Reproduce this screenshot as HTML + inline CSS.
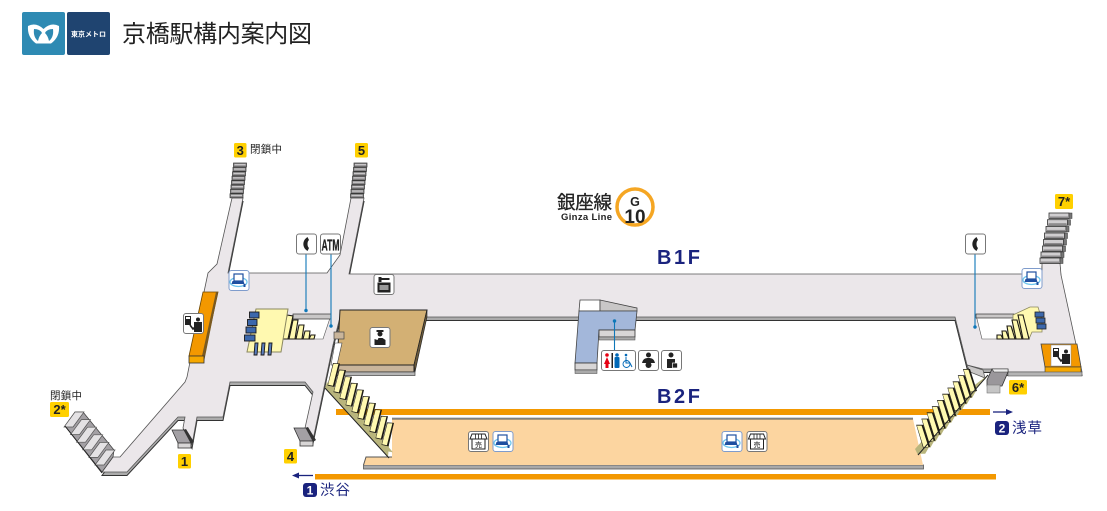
<!DOCTYPE html>
<html lang="ja"><head><meta charset="utf-8"><title>京橋駅構内案内図</title>
<style>
html,body{margin:0;padding:0;background:#fff}
svg{display:block}
text{font-family:"Liberation Sans","Noto Sans CJK JP",sans-serif}
</style></head><body>
<svg width="1107" height="511" viewBox="0 0 1107 511" xmlns="http://www.w3.org/2000/svg">
<defs>
<g id="ls"><polygon points="-5.5,22 1,24 6,30 1,29" fill="#b9b57c"/><polygon points="0,0 7,0.5 1.5,24 -5.5,22.5" fill="#1c1a14"/><polygon points="0.5,0.8 5.4,1 -0.1,22.8 -4.9,21.8" fill="#fff9b0"/></g>
<g id="rs"><polygon points="6,23 13,22 9,29 3,29" fill="#b9b57c"/><polygon points="0,0 7,0 14,22 7,23.5" fill="#1c1a14"/><polygon points="0.7,0.8 5.4,0.8 12.2,22 7.5,22.8" fill="#fff9b0"/></g>
<polygon id="gs" points="0,0 -9,0 -20,15 -11,15" fill="#e4e2e4" stroke="#555" stroke-width=".7"/>
<g id="bar"><rect width="13" height="4" fill="#8c8a8c" stroke="#333" stroke-width=".7"/><rect x="1" y="1" width="11" height="1.3" fill="#c9c7c9"/></g>
<g id="bar7"><rect width="20" height="5.5" fill="#d0ced0" stroke="#333" stroke-width=".8"/><rect x="1" y="3.5" width="18" height="1.5" fill="#8c8a8c"/><rect x="20" width="3" height="5.5" fill="#777" stroke="#333" stroke-width=".5"/></g>
<g id="box"><rect x=".5" y=".5" width="20" height="20" rx="2.5" fill="#fff" stroke="#777"/></g>
<g id="wifi"><rect x=".5" y=".5" width="20" height="20" rx="2.5" fill="#fff" stroke="#7f9ccc"/><ellipse cx="10" cy="12" rx="8.5" ry="4.5" fill="none" stroke="#6ec6ee" stroke-width="1.3"/><rect x="5.5" y="4" width="9" height="7" fill="#fff" stroke="#1e4fa0" stroke-width="1.2"/><polygon points="4,11 15,11 16,14 3,14" fill="#1e4fa0"/><rect x="15" y="14" width="2" height="3" fill="#1e4fa0"/></g>
<g id="shop"><rect x=".5" y=".5" width="20" height="20" rx="2.5" fill="#fff" stroke="#777"/><path d="M4,3H17L19,8H2Z" fill="#fff" stroke="#222"/><path d="M7.5,3V8M10.5,3V8M13.5,3V8" stroke="#222" stroke-width=".8"/><rect x="4" y="8" width="13" height="10" fill="#fff" stroke="#222"/><text x="10.5" y="16" font-size="7" text-anchor="middle" fill="#222">売</text></g>
<g id="info"><path d="M2,3h6v9H2z" fill="#222"/><rect x="3" y="4" width="4" height="2" fill="#fff"/><rect x="11" y="9" width="8" height="10" fill="#222"/><circle cx="15" cy="6.5" r="2" fill="#222"/><path d="M7,12l3,4 2,-2" fill="none" stroke="#222" stroke-width="1.6"/></g>
<g id="phone"><path d="M11.5,3.5 C6,7 6,14 11.5,17.5 L13,14.5 C11,13 11,8 13,6.5 Z" fill="#222"/></g>
<g id="ext"><polygon points="11,0 14,-1 22,12 19,14" fill="#333"/><polygon points="0,0 12,0 19,13 6,13" fill="#a3a0a4" stroke="#333" stroke-width=".8"/><rect x="6" y="13" width="13" height="5" fill="#d8d6d6" stroke="#333" stroke-width=".8"/></g>
</defs>

<!-- header -->
<rect x="22" y="12" width="43" height="43" rx="2" fill="#2e8ab3"/>
<rect x="67" y="12" width="43" height="43" rx="2" fill="#1f4470"/>
<path d="M28,26 Q36,22 43.5,29 Q51,22 59,26 Q60,37 51,43.5 L36,43.5 Q27,37 28,26Z" fill="#fff"/>
<path d="M34,29 Q40,29 42,33 Q39,36 38,41 Q33,37 34,29Z" fill="#2e8ab3"/>
<path d="M53,29 Q47,29 45,33 Q48,36 49,41 Q54,37 53,29Z" fill="#2e8ab3"/>
<text x="88.5" y="36.5" font-size="7" font-weight="700" text-anchor="middle" fill="#fff" textLength="35" lengthAdjust="spacingAndGlyphs">東京メトロ</text>
<text x="122" y="42" font-size="24" fill="#222" textLength="190">京橋駅構内案内図</text>

<!-- B1F floor -->
<path d="M232,198 L217,264 L208,273 L204,292 L187,377 L185,382 L120,457 L113,457 L102,472 L127,472 L178,417 L185,417 L183,428 L192,445 L197,417 L223,417 L230,382 L305,382 L313,392 L305,428 L313,440 L333,345 L340,317 L955,317 L957,325 L967,365 L983,369 L992,369 L1008,372 L1082,372 L1061,275 L1060,263 L1042,263 L1042,274 L349,274 L364,198 L351,198 L340,255 L327,273 L228,273 L243,198Z" fill="#ababab" stroke="#333" transform="translate(0,3.5)"/>
<path d="M232,198 L217,264 L208,273 L204,292 L187,377 L185,382 L120,457 L113,457 L102,472 L127,472 L178,417 L185,417 L183,428 L192,445 L197,417 L223,417 L230,382 L305,382 L313,392 L305,428 L313,440 L333,345 L340,317 L955,317 L957,325 L967,365 L983,369 L992,369 L1008,372 L1082,372 L1061,275 L1060,263 L1042,263 L1042,274 L349,274 L364,198 L351,198 L340,255 L327,273 L228,273 L243,198Z" fill="#ebe7ea" stroke="#555" stroke-width=".8"/>

<!-- trains -->
<rect x="336" y="409" width="654" height="6" fill="#f39800"/>
<rect x="315" y="474" width="681" height="5.5" fill="#f39800"/>

<!-- B2F floor -->
<rect x="363.5" y="465" width="560" height="4" fill="#a9a9a9" stroke="#555" stroke-width=".8"/>
<path d="M363.5,465 L366,457 H392 V419 H913 L923,465Z" fill="#fcd5a0"/>
<path d="M363.5,465 L366,457 H392 M392,419 H913" fill="none" stroke="#555" stroke-width="1"/>
<path d="M392,418 H913" stroke="#aaa" stroke-width="1"/>

<!-- left hole and stair -->
<polygon points="293,315 331,315 323,339 282,339" fill="#fff" stroke="#555" stroke-width=".6"/>
<rect x="293" y="314" width="38" height="5" fill="#c9c7c7" stroke="#333" stroke-width=".7"/>
<g fill="#fff9b0" stroke="#1c1a14" stroke-width="1.1">
<polygon points="287,315 293,316 288,339 282,339"/><polygon points="293,320 298,320 295,339 289,339"/><polygon points="299,325 304,325 302,339 296,339"/><polygon points="305,331 310,331 309,339 303,339"/><polygon points="311,335 315,335 314,339 309,339"/>
</g>
<polygon points="256,309 288,309 281,352 247,352" fill="#fff9b0" stroke="#8a8760" stroke-width="1"/>
<g fill="#3c68ac" stroke="#1a1a1a" stroke-width=".9">
<rect x="249.5" y="312" width="9.5" height="6"/><rect x="247.5" y="319.5" width="9.5" height="6"/><rect x="246" y="327" width="10" height="6"/><rect x="244.5" y="335" width="10.5" height="6"/>
<polygon points="255,343 258,343 257,355 254,355" fill="#5a7dbd"/><polygon points="262,343 265,343 264,355 261,355" fill="#5a7dbd"/><polygon points="269,343 272,343 271,355 268,355" fill="#5a7dbd"/>
</g>

<!-- left orange -->
<polygon points="203,292 218,292 204,356 189,356" fill="#f39800" stroke="#6b4500" stroke-width=".8"/>
<polygon points="218,292 216,292 202,356 204,362" fill="#7a5a20"/>
<rect x="189" y="356" width="15" height="7" fill="#f6a800" stroke="#333" stroke-width=".8"/>

<!-- tan room -->
<polygon points="340,310 427,310 414,365 337,365" fill="#d3b074" stroke="#222"/>
<polygon points="427,310 427,317 415,372 414,365" fill="#6b5a3c" stroke="#222" stroke-width=".6"/>
<rect x="337" y="365" width="77" height="7" fill="#c9b59b" stroke="#222"/>
<rect x="337" y="372" width="78" height="3.5" fill="#b5b5b5" stroke="#444" stroke-width=".7"/>
<rect x="334" y="332" width="10" height="7" fill="#c9b59b" stroke="#444" stroke-width=".7"/>
<polygon points="335,343 342,343 337,365 331,365" fill="#fff" stroke="#444" stroke-width=".6"/>

<!-- center stair -->
<polygon points="580,300 600,300 600,311 579,311" fill="#fff" stroke="#444" stroke-width=".8"/>
<polygon points="600,300 637,308 637,311 600,311" fill="#c9c7c7" stroke="#444" stroke-width=".8"/>
<polygon points="579,311 637,311 635,330 599,330 597,363 575,363" fill="#a3b7da" stroke="#444" stroke-width=".8"/>
<rect x="599" y="330" width="36" height="7" fill="#d8d6d6" stroke="#333" stroke-width=".8"/>
<rect x="599" y="337" width="36" height="3" fill="#aaa" stroke="#444" stroke-width=".5"/>
<rect x="575" y="363" width="22" height="7" fill="#d8d6d6" stroke="#333" stroke-width=".8"/>
<rect x="575" y="370" width="22" height="3.5" fill="#aaa" stroke="#444" stroke-width=".5"/>

<!-- right hole and stair -->
<polygon points="976,315 1016,315 1029,339 982,339" fill="#fff" stroke="#555" stroke-width=".6"/>
<rect x="976" y="314" width="38" height="4" fill="#c9c7c7" stroke="#333" stroke-width=".7"/>
<polygon points="1013,315 1030,307 1038,307 1042,320 1042,332 1032,332 1029,339 1013,339" fill="#fff9b0" stroke="#8a8760" stroke-width=".8"/>
<g fill="#fff9b0" stroke="#1c1a14" stroke-width="1.1">
<polygon points="997,335 1001,335 1003,339 997,339"/><polygon points="1002,331 1006,331 1009,339 1003,339"/><polygon points="1007,326 1011,326 1015,339 1009,339"/><polygon points="1012,320 1017,320 1022,339 1016,339"/><polygon points="1018,315 1023,315 1029,339 1023,339"/>
</g>
<g fill="#3c68ac" stroke="#222" stroke-width=".8"><rect x="1035" y="312" width="9" height="5"/><rect x="1036" y="318" width="9" height="5"/><rect x="1037" y="324" width="9" height="5"/></g>
<polygon points="1041,344 1077,344 1081,367 1045,367" fill="#f39800" stroke="#444" stroke-width=".8"/>
<rect x="1045" y="367" width="36" height="5.5" fill="#f6a800" stroke="#333" stroke-width=".6"/>
<rect x="1008" y="372" width="74" height="4" fill="#b4b4b4" stroke="#555" stroke-width=".6"/>

<!-- B2F stairs -->
<polygon points="325,388 327,382 384,445 389,445 388,457" fill="#b9b57c"/>
<use href="#ls" x="333" y="363"/><use href="#ls" x="339" y="369.6"/><use href="#ls" x="345" y="376.2"/><use href="#ls" x="351" y="382.8"/><use href="#ls" x="357" y="389.4"/><use href="#ls" x="363" y="396"/><use href="#ls" x="369" y="402.6"/><use href="#ls" x="375" y="409.2"/><use href="#ls" x="381" y="415.8"/><use href="#ls" x="387" y="422.4"/>
<path d="M325,388 L389,458" stroke="#222" stroke-width="1"/>
<polygon points="967,365 983,370 985,378 970,372" fill="#c9c7c7" stroke="#555" stroke-width=".7"/>
<polygon points="915,449 968,390 988,375 918,455" fill="#b9b57c"/>
<use href="#rs" x="963" y="369"/><use href="#rs" x="957.8" y="375.2"/><use href="#rs" x="952.6" y="381.4"/><use href="#rs" x="947.4" y="387.6"/><use href="#rs" x="942.2" y="393.8"/><use href="#rs" x="937" y="400"/><use href="#rs" x="931.8" y="406.2"/><use href="#rs" x="926.6" y="412.4"/><use href="#rs" x="921.4" y="418.6"/><use href="#rs" x="916.2" y="424.8"/>
<path d="M918,455 L988,375" stroke="#222" stroke-width="1"/>

<!-- exit stairs -->
<polygon points="75,412 83,412 114,450 113,457 102,472 65,426" fill="#a3a0a4" stroke="#444" stroke-width=".8"/>
<use href="#gs" x="84" y="412"/><use href="#gs" x="90.5" y="419.6"/><use href="#gs" x="96.5" y="427.2"/><use href="#gs" x="102.7" y="434.8"/><use href="#gs" x="108.9" y="442.4"/><use href="#gs" x="115" y="450"/>
<path d="M65,426 L102,473" stroke="#222"/>
<g><use href="#bar" x="233.5" y="163"/><use href="#bar" x="233" y="167.4"/><use href="#bar" x="232.5" y="171.8"/><use href="#bar" x="232" y="176.2"/><use href="#bar" x="231.5" y="180.6"/><use href="#bar" x="231" y="185"/><use href="#bar" x="230.5" y="189.4"/><use href="#bar" x="230" y="193.8"/></g>
<g><use href="#bar" x="354" y="163"/><use href="#bar" x="353.5" y="167.4"/><use href="#bar" x="353" y="171.8"/><use href="#bar" x="352.5" y="176.2"/><use href="#bar" x="352" y="180.6"/><use href="#bar" x="351.5" y="185"/><use href="#bar" x="351" y="189.4"/><use href="#bar" x="350.5" y="193.8"/></g>
<g><use href="#bar7" x="1049" y="213"/><use href="#bar7" x="1047.5" y="219.7"/><use href="#bar7" x="1046" y="226.4"/><use href="#bar7" x="1044.5" y="233"/><use href="#bar7" x="1043.5" y="239.5"/><use href="#bar7" x="1042.5" y="246"/><use href="#bar7" x="1041" y="252"/><use href="#bar7" x="1040" y="258"/></g>
<use href="#ext" x="172" y="430"/>
<use href="#ext" x="294" y="428"/>
<polygon points="992,369 1008,369 1008,372 1002,386 987,386 987,380" fill="#9a979b" stroke="#333" stroke-width=".8"/>
<polygon points="992,369 1008,369 1008,372 994,372" fill="#eee" stroke="#333" stroke-width=".6"/>
<rect x="987" y="385" width="13" height="8" fill="#c5c5c5" stroke="#777" stroke-width=".6"/>

<!-- leader lines -->
<g stroke="#0f77b8" stroke-width="1.1" fill="#0f77b8">
<path d="M306,254V310M331,254V326M975,254V327M614.5,350V321"/>
<circle cx="306" cy="310.5" r="1.2"/><circle cx="331" cy="326" r="1.2"/><circle cx="975" cy="327" r="1.2"/><circle cx="614.5" cy="321" r="1.2"/>
</g>

<!-- icons -->
<g transform="translate(296,233.5)"><use href="#box"/><use href="#phone"/></g>
<g transform="translate(320,233.5)"><use href="#box"/><text x="10.5" y="17" font-size="16" font-weight="700" text-anchor="middle" fill="#222" stroke="#222" stroke-width=".3" textLength="18" lengthAdjust="spacingAndGlyphs">ATM</text></g>
<g transform="translate(965,233.5)"><use href="#box"/><use href="#phone"/></g>
<use href="#wifi" x="228.5" y="270"/>
<use href="#wifi" x="1021.5" y="268"/>
<g transform="translate(373.5,274)"><use href="#box"/><rect x="4.5" y="9" width="12" height="9" fill="#222" stroke="#222"/><rect x="6" y="11" width="9" height="5" fill="#999"/><rect x="5" y="3" width="3" height="5" fill="#222"/><rect x="8" y="4" width="8" height="2" fill="#222"/></g>
<g transform="translate(183,313)"><use href="#box"/><use href="#info"/></g>
<g transform="translate(1051,345)"><rect width="20" height="21" fill="#fff" stroke="#888" stroke-width=".5"/><use href="#info"/></g>
<g transform="translate(369.5,327)"><use href="#box"/><circle cx="10.5" cy="7" r="2.5" fill="#222"/><rect x="7" y="3" width="7" height="2" fill="#222"/><path d="M5,12l3,1 1,-2h4l3,2v5H5z" fill="#222"/></g>
<g transform="translate(601,350)">
<rect x=".5" y=".5" width="34" height="20" rx="2.5" fill="#fff" stroke="#777"/>
<circle cx="6" cy="5" r="1.8" fill="#e60012"/><path d="M6,7l3,7H7.5v4h-3v-4H3z" fill="#e60012"/>
<rect x="10.5" y="3" width="1.5" height="15" fill="#222"/>
<circle cx="16" cy="5" r="1.8" fill="#0068b7"/><rect x="13.5" y="7" width="5" height="11" rx="1" fill="#0068b7"/>
<circle cx="25" cy="5" r="1.3" fill="#0068b7"/><path d="M25,7v6h4l2,4" fill="none" stroke="#0068b7" stroke-width="1"/><circle cx="25.5" cy="14" r="3.5" fill="none" stroke="#0068b7" stroke-width=".9"/>
</g>
<g transform="translate(638,350)"><use href="#box"/><circle cx="10.5" cy="5" r="2.5" fill="#222"/><path d="M4,13c1,-4 3,-5 6.5,-5s5.5,1 6.5,5z" fill="#222"/><circle cx="10.5" cy="15" r="3" fill="#222"/></g>
<g transform="translate(661,350)"><use href="#box"/><circle cx="10" cy="5" r="2.5" fill="#222"/><path d="M6,9h8v9H6z" fill="#222"/><rect x="11.5" y="13" width="5" height="5" fill="#222" stroke="#fff" stroke-width=".7"/></g>
<use href="#shop" x="468" y="431"/><use href="#wifi" x="492.5" y="431"/><use href="#wifi" x="721.5" y="431"/><use href="#shop" x="746.5" y="431"/>

<!-- line sign -->
<text x="557" y="209" font-size="18.5" fill="#222" stroke="#222" stroke-width=".3" textLength="55">銀座線</text>
<text x="561" y="220" font-size="9.5" font-weight="700" fill="#222" textLength="51">Ginza Line</text>
<circle cx="635" cy="207" r="18" fill="#fff" stroke="#f5a623" stroke-width="3.5"/>
<text x="635" y="206" font-size="12.5" font-weight="700" text-anchor="middle" fill="#222">G</text>
<text x="635" y="223" font-size="19" font-weight="700" text-anchor="middle" fill="#222">10</text>
<text x="657" y="264" font-size="20" font-weight="700" fill="#1a237e" textLength="43">B1F</text>
<text x="657" y="403" font-size="20" font-weight="700" fill="#1a237e" textLength="43">B2F</text>

<!-- exit labels -->
<g font-weight="700" font-size="13" fill="#222" text-anchor="middle">
<rect x="234" y="143" width="12.5" height="14.5" rx="1.5" fill="#ffd000"/><text x="240.2" y="155">3</text>
<rect x="355" y="143" width="13" height="14.5" rx="1.5" fill="#ffd000"/><text x="361.5" y="155">5</text>
<rect x="1055" y="194" width="18" height="15" rx="1.5" fill="#ffd000"/><text x="1064" y="206">7*</text>
<rect x="1009" y="380" width="18" height="14.5" rx="1.5" fill="#ffd000"/><text x="1018" y="392">6*</text>
<rect x="50" y="402" width="19" height="15" rx="1.5" fill="#ffd000"/><text x="59.5" y="414">2*</text>
<rect x="178" y="454" width="13" height="14.5" rx="1.5" fill="#ffd000"/><text x="184.5" y="466">1</text>
<rect x="284" y="449" width="13" height="14.5" rx="1.5" fill="#ffd000"/><text x="290.5" y="461">4</text>
</g>
<text x="250" y="152.5" font-size="10.5" fill="#222" textLength="32">閉鎖中</text>
<text x="50" y="399" font-size="10.5" fill="#222" textLength="32">閉鎖中</text>

<!-- directions -->
<path d="M298,475.5H313" stroke="#1a237e" stroke-width="1.3"/><polygon points="292,475.5 299,472.5 299,478.5" fill="#1a237e"/>
<rect x="303" y="483" width="14" height="14" rx="3" fill="#1a237e"/><text x="310" y="494.5" font-size="12" font-weight="700" text-anchor="middle" fill="#fff">1</text>
<text x="320" y="495" font-size="14.5" fill="#1a237e" textLength="30">渋谷</text>
<path d="M993,412H1007" stroke="#1a237e" stroke-width="1.3"/><polygon points="1013,412 1006,409 1006,415" fill="#1a237e"/>
<rect x="995" y="421" width="14" height="14" rx="3" fill="#1a237e"/><text x="1002" y="432.5" font-size="12" font-weight="700" text-anchor="middle" fill="#fff">2</text>
<text x="1012" y="433" font-size="14.5" fill="#1a237e" textLength="30">浅草</text>
</svg>
</body></html>
